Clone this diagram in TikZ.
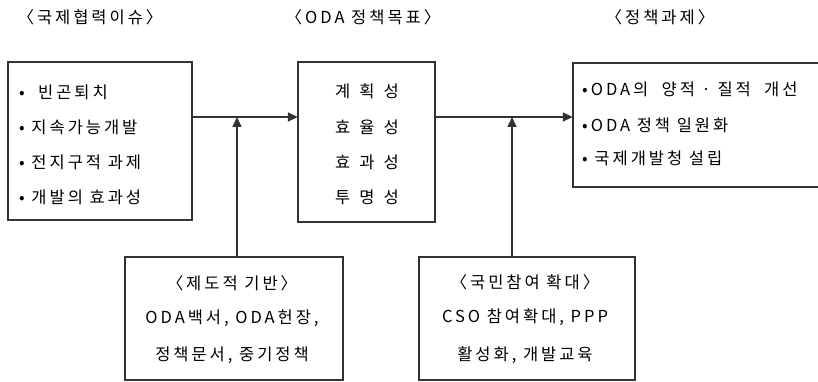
\documentclass[tikz,border=0pt]{standalone}
\usepackage{fontspec}
\setmainfont[LetterSpace=18]{Noto Sans CJK KR}
\usetikzlibrary{arrows.meta,positioning}
\tikzset{
  boxline/.style={draw=black!80, line width=1.6pt},
  conn/.style={draw=black!80, line width=1.6pt},
  tip/.style={-{Triangle[length=10pt,width=9pt]}},
  txt/.style={font=\fontsize{16.5}{18}\selectfont, inner sep=0pt, anchor=west},
  ctxt/.style={font=\fontsize{16.5}{18}\selectfont, inner sep=0pt},
}
\newcommand{\gp}{\hspace{9pt}}
\begin{document}
\begin{tikzpicture}[x=1pt,y=-1pt]
\useasboundingbox (0,0) rectangle (818,382);
% headers
\node[ctxt] (h1) at (90,17) {〈국제협력이슈〉};
\node[ctxt] (h2) at (363,17) {〈ODA 정책목표〉};
\node[ctxt] (h3) at (660,17) {〈정책과제〉};
% boxes
\draw[boxline] (8,62) rectangle (192,220);
\node[inner sep=0pt, minimum width=184pt, minimum height=158pt] (L) at (100,141) {};
\draw[boxline] (298,62) rectangle (435,222);
\node[inner sep=0pt, minimum width=137pt, minimum height=160pt] (M) at (366.5,142) {};
\draw[boxline] (573,63) rectangle (824,187);
\node[inner sep=0pt, minimum width=251pt, minimum height=124pt] (R) at (698.5,125) {};
\draw[boxline] (125,257) rectangle (343,380);
\node[inner sep=0pt, minimum width=218pt, minimum height=123pt] (B1) at (234,318.5) {};
\draw[boxline] (419,257) rectangle (635,380);
\node[inner sep=0pt, minimum width=216pt, minimum height=123pt] (B2) at (527,318.5) {};
% left box text
\node[txt] (l1) at (19,92) {•\ \ 빈곤퇴치};
\node[txt] (l2) at (19,127) {•\ 지속가능개발};
\node[txt] (l3) at (19,162) {•\ 전지구적 과제};
\node[txt] (l4) at (19,197) {•\ 개발의 효과성};
% middle
\node[ctxt] (m1) at (367,91) {계\gp 획\gp 성};
\node[ctxt] (m2) at (367,127) {효\gp 율\gp 성};
\node[ctxt] (m3) at (367,162) {효\gp 과\gp 성};
\node[ctxt] (m4) at (367,197) {투\gp 명\gp 성};
% right
\node[txt] (r1) at (582,89) {•ODA의\ \ 양적 · 질적\ \ 개선};
\node[txt] (r2) at (582,125) {•ODA 정책 일원화};
\node[txt] (r3) at (582,158) {•\ 국제개발청 설립};
% bottom left
\node[ctxt] (b11) at (232,283) {〈제도적 기반〉};
\node[ctxt] (b12) at (232,318) {ODA백서, ODA헌장,};
\node[ctxt] (b13) at (232,355) {정책문서, 중기정책};
% bottom right
\node[ctxt] (b21) at (525,282) {〈국민참여 확대〉};
\node[ctxt] (b22) at (525,317) {CSO 참여확대, PPP};
\node[ctxt] (b23) at (525,355) {활성화, 개발교육};
% connectors
\coordinate (j1) at (237,117);
\coordinate (j2) at (512,117);
\draw[conn,tip] (L.east |- j1) -- (M.west |- j1);
\draw[conn,tip] (B1.north -| j1) -- (j1);
\draw[conn,tip] (M.east |- j2) -- (R.west |- j2);
\draw[conn,tip] (B2.north -| j2) -- (j2);
\end{tikzpicture}
\end{document}
